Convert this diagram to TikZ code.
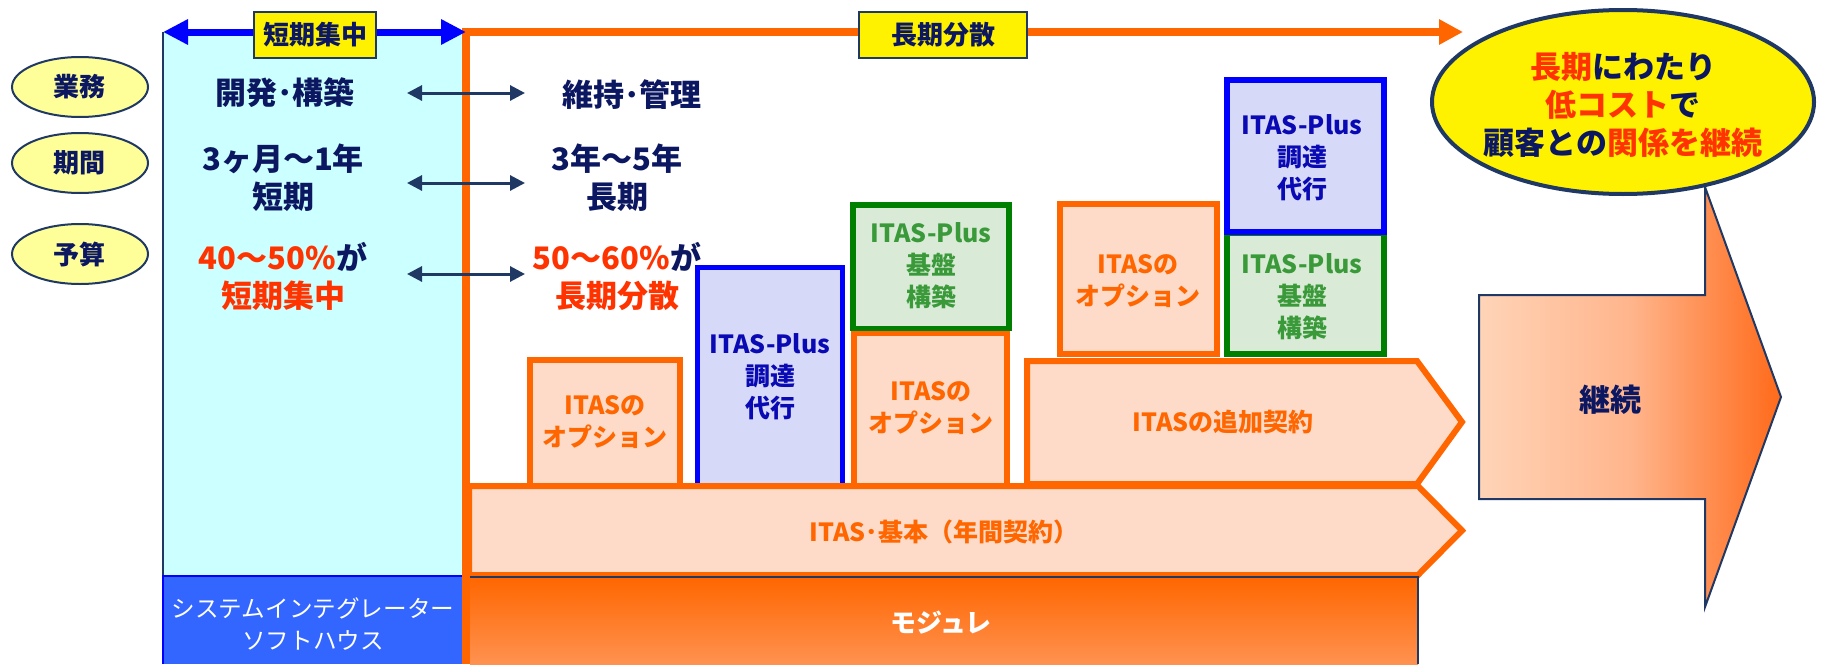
\documentclass[tikz,border=0pt]{standalone}
\usepackage{fontspec}
\setmainfont{Noto Sans CJK JP}
\usetikzlibrary{arrows.meta,shapes.geometric}
\definecolor{cNavy}{HTML}{0B1760}
\definecolor{bNavy}{HTML}{1F3864}
\definecolor{redT}{HTML}{FF3300}
\definecolor{orngL}{HTML}{FF6600}
\definecolor{cyanF}{HTML}{CCFFFF}
\definecolor{ellY}{HTML}{FFFF99}
\definecolor{sysB}{HTML}{3366FF}
\definecolor{optF}{HTML}{FDDBC8}
\definecolor{blueF}{HTML}{D6D9F7}
\definecolor{blueT}{HTML}{0A0AB4}
\definecolor{greenF}{HTML}{D9EBD6}
\definecolor{greenB}{HTML}{008000}
\definecolor{greenT}{HTML}{3A9A3A}
\definecolor{peachF}{HTML}{FFD4B8}
\definecolor{midOr}{HTML}{FFB58C}
\definecolor{deepOr}{HTML}{FF6A1A}
\definecolor{modBot}{HTML}{FF9250}
\begin{document}
\begin{tikzpicture}[x=0.5pt,y=-0.5pt,
  optbox/.style={draw=orngL, line width=3pt, fill=optF},
  bluebox/.style={draw=blue, line width=2.75pt, fill=blueF},
  greenbox/.style={draw=greenB, line width=2.75pt, fill=greenF},
  boxtxt/.style={font=\bfseries\fontsize{12.5}{16}\selectfont, align=center, inner sep=0pt},
  mainl/.style={font=\bfseries\fontsize{15.5}{19}\selectfont, align=center, inner sep=0pt, text=cNavy},
  ell/.style={ellipse, draw=bNavy, line width=1pt, fill=ellY, minimum width=68pt, minimum height=30pt, inner sep=0pt, font=\bfseries\fontsize{13}{15}\selectfont, text=cNavy},
  lbl/.style={draw=bNavy, line width=1pt, fill=yellow, minimum height=23pt, inner sep=0pt, font=\bfseries\fontsize{13}{15}\selectfont, text=cNavy},
  dbl/.style={draw=bNavy, line width=1.5pt, arrows={Triangle[length=7.5pt,width=7.5pt]-Triangle[length=7.5pt,width=7.5pt]}}
]
\useasboundingbox (0,0) rectangle (1825,664);
\fill[white] (0,0) rectangle (1825,664);

% left short-term area
\fill[cyanF] (163,32) rectangle (464,576);
\draw[bNavy, line width=0.9pt] (163,32) -- (163,576);
\fill[sysB] (163,576) rectangle (464,664);
\draw[blue, line width=1pt] (163,664) -- (163,576) -- (464,576);
\node[white, font=\fontsize{11.8}{16}\selectfont, align=center, inner sep=0pt] (sys) at (313,624) {システムインテグレーター\\ソフトハウス};

% stacked boxes
\draw[optbox] (530,360) rectangle (680,486);
\node[boxtxt, text=orngL] (o1) at (605,422) {ITASの\\オプション};
\draw[bluebox] (697.5,267.5) rectangle (842.5,486);
\node[boxtxt, text=blueT] (p1) at (770,377) {ITAS-Plus\\調達\\代行};
\draw[optbox] (854,333) rectangle (1007,486);
\node[boxtxt, text=orngL] (o2) at (931,408) {ITASの\\オプション};
\draw[greenbox] (853,205) rectangle (1009,328.5);
\node[boxtxt, text=greenT] (g1) at (931,266) {ITAS-Plus\\基盤\\構築};
\draw[optbox] (1060,204) rectangle (1217,354);
\node[boxtxt, text=orngL] (o3) at (1138,281) {ITASの\\オプション};
\draw[greenbox] (1227,233.5) rectangle (1384,354);
\node[boxtxt, text=greenT] (g2) at (1302,297) {ITAS-Plus\\基盤\\構築};
\draw[bluebox] (1227,80) rectangle (1384,232);
\node[boxtxt, text=blueT] (p2) at (1302,158) {ITAS-Plus\\調達\\代行};

% additional contract pentagon
\draw[optbox, line join=miter] (1027,361) -- (1417,361) -- (1462,422) -- (1417,484) -- (1027,484) -- cycle;
\node[boxtxt, text=orngL] (add) at (1223,422) {ITASの追加契約};

% base band
\draw[optbox, line join=miter] (469,486) -- (1418,486) -- (1462,530.5) -- (1418,575) -- (469,575) -- cycle;
\node[boxtxt, text=orngL] (base) at (944,532) {ITAS･基本（年間契約）};

% module bar
\shade[top color=orngL, bottom color=modBot] (470,577) rectangle (1418,664);
\draw[bNavy, line width=1pt] (470,577) -- (1418,577) -- (1418,664);
\node[white, font=\bfseries\fontsize{13}{16}\selectfont, inner sep=0pt] (mod) at (941,623) {モジュレ};

% long-term orange line with arrow
\coordinate (lb) at (466,664);
\coordinate (lc) at (466,32);
\coordinate (lt) at (1463,32);
\draw[orngL, line width=3.9pt, line join=miter, -{Triangle[length=12pt,width=12pt]}] (lb) -- (lc) -- (lt);

% short-term blue arrow
\coordinate (sl) at (163,32);
\coordinate (sr) at (466,32);
\draw[blue, line width=3.5pt, arrows={Triangle[length=12.5pt,width=12pt]-Triangle[length=12.5pt,width=12pt]}] (sl) -- (sr);

% labels
\node[lbl, minimum width=61pt] (lshort) at (315,34.5) {短期集中};
\node[lbl, minimum width=84pt] (llong) at (943,34.5) {長期分散};

% category ellipses
\node[ell] (e1) at (80,87) {業務};
\node[ell] (e2) at (80,163) {期間};
\node[ell] (e3) at (80,254) {予算};

% texts
\node[mainl] (dev) at (285,93) {開発･構築};
\node[mainl] (mnt) at (632,95) {維持･管理};
\node[mainl] (t1l) at (283,178) {3ヶ月～1年\\短期};
\node[mainl] (t1r) at (617,178) {3年～5年\\長期};
\node[mainl] (b1l) at (283,276) {\textcolor{redT}{40～50\%}が\\\textcolor{redT}{短期集中}};
\node[mainl] (b1r) at (617,276) {\textcolor{redT}{50～60\%}が\\\textcolor{redT}{長期分散}};

% double arrows
\coordinate (a1l) at (407,93);  \coordinate (a1r) at (525,93);
\coordinate (a2l) at (407,183); \coordinate (a2r) at (525,183);
\coordinate (a3l) at (407,274); \coordinate (a3r) at (525,274);
\draw[dbl] (a1l) -- (a1r);
\draw[dbl] (a2l) -- (a2r);
\draw[dbl] (a3l) -- (a3r);

% big continuation arrow
\draw[bNavy, line width=1pt, left color=peachF, right color=deepOr, middle color=midOr]
  (1479,295) -- (1705,295) -- (1705,187) -- (1781,397) -- (1705,607) -- (1705,499) -- (1479,499) -- cycle;
\node[font=\bfseries\fontsize{15.5}{19}\selectfont, text=cNavy, inner sep=0pt] (cont) at (1610,400) {継続};

% goal ellipse
\node[ellipse, draw=bNavy, line width=2pt, fill=yellow, minimum width=191pt, minimum height=92pt, inner sep=0pt] (goal) at (1623,102) {};
\node[font=\bfseries\fontsize{15.5}{19}\selectfont, text=cNavy, align=center, inner sep=0pt] (goaltxt) at (1623,105)
  {\textcolor{redT}{長期}にわたり\\\textcolor{redT}{低コスト}で\\顧客との\textcolor{redT}{関係を継続}};
\end{tikzpicture}
\end{document}
